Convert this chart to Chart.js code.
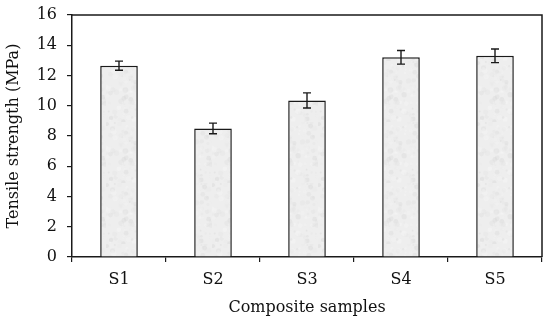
<!DOCTYPE html>
<html lang="en">
  <head>
    <meta charset="UTF-8" />
    <title>Tensile strength</title>
    <script src="https://cdn.jsdelivr.net/npm/chart.js"></script>
    <style>
      body {
        margin: 0;
        padding: 0;
        background: #fff;
      }
      .chart-container {
        position: relative;
        width: 550px;
        height: 321px;
      }
    </style>
  </head>
  <body>
    <div class="chart-container">
      <canvas id="tensile-chart"></canvas>
    </div>

    <script>
      const categories = ["S1", "S2", "S3", "S4", "S5"];
      const strength = [12.65, 8.5, 10.35, 13.2, 13.3];
      const errors = [0.3, 0.35, 0.5, 0.45, 0.45];
      const yTicks = [0, 2, 4, 6, 8, 10, 12, 14, 16];

      const FONT = "'DejaVu Serif', serif";

      // mottled grey fill like the original
      function makeTexture() {
        const c = document.createElement("canvas");
        c.width = 53;
        c.height = 61;
        const g = c.getContext("2d");
        g.fillStyle = "#eeeeee";
        g.fillRect(0, 0, 53, 61);
        let seed = 11;
        const rnd = () => {
          seed = (seed * 16807) % 2147483647;
          return seed / 2147483647;
        };
        for (let i = 0; i < 160; i++) {
          const shade = 210 + Math.floor(rnd() * 40);
          g.fillStyle = `rgba(${shade},${shade},${shade},0.35)`;
          g.beginPath();
          g.arc(rnd() * 53, rnd() * 61, 0.8 + rnd() * 2, 0, Math.PI * 2);
          g.fill();
        }
        return g.createPattern(c, "repeat");
      }

      const errorBars = {
        id: "errorBars",
        afterDatasetsDraw(chart) {
          const ctx = chart.ctx;
          const y = chart.scales.y;
          const meta = chart.getDatasetMeta(0);
          ctx.save();
          ctx.strokeStyle = "#1a1a1a";
          ctx.lineWidth = 1.4;
          meta.data.forEach((bar, i) => {
            const top = y.getPixelForValue(strength[i] + errors[i]);
            const bot = y.getPixelForValue(strength[i] - errors[i]);
            const x = bar.x;
            ctx.beginPath();
            ctx.moveTo(x, top);
            ctx.lineTo(x, bot);
            ctx.moveTo(x - 4, top);
            ctx.lineTo(x + 4, top);
            ctx.moveTo(x - 4, bot);
            ctx.lineTo(x + 4, bot);
            ctx.stroke();
          });
          ctx.restore();
        },
      };

      const frame = {
        id: "frame",
        afterDraw(chart) {
          const { left, right, top, bottom } = chart.chartArea;
          const ctx = chart.ctx;
          ctx.save();
          ctx.strokeStyle = "#1a1a1a";
          ctx.lineWidth = 1.5;
          ctx.beginPath();
          ctx.moveTo(left, top);
          ctx.lineTo(right, top);
          ctx.lineTo(right, bottom);
          ctx.stroke();
          ctx.restore();
        },
      };

      new Chart(document.getElementById("tensile-chart"), {
        type: "bar",
        data: {
          labels: categories,
          datasets: [
            {
              data: strength,
              backgroundColor: makeTexture(),
              borderColor: "#1a1a1a",
              borderWidth: 1.5,
              borderSkipped: "bottom",
              categoryPercentage: 1,
              barPercentage: 0.4,
            },
          ],
        },
        options: {
          responsive: true,
          maintainAspectRatio: false,
          animation: false,
          layout: { padding: { top: 15, right: 8, left: 0, bottom: 0 } },
          plugins: {
            legend: { display: false },
            tooltip: { enabled: false },
          },
          scales: {
            x: {
              afterFit(scale) {
                scale.height = 64;
              },
              grid: {
                offset: true,
                drawOnChartArea: false,
                drawTicks: true,
                tickLength: 5,
                color: "#1a1a1a",
                lineWidth: 1.2,
              },
              border: { color: "#1a1a1a", width: 1.5 },
              ticks: {
                color: "#111",
                font: { family: FONT, size: 16 },
                padding: 8,
              },
              title: {
                display: true,
                text: "Composite samples",
                color: "#111",
                font: { family: FONT, size: 16 },
                padding: { top: 2 },
              },
            },
            y: {
              min: 0,
              max: 16,
              afterFit(scale) {
                scale.width = 72;
                scale.paddingTop = 0;
                scale.paddingBottom = 0;
              },
              afterBuildTicks(scale) {
                scale.ticks = yTicks.map((v) => ({ value: v }));
              },
              grid: {
                drawOnChartArea: false,
                drawTicks: true,
                tickLength: 5,
                color: "#1a1a1a",
                lineWidth: 1.2,
              },
              border: { color: "#1a1a1a", width: 1.5 },
              ticks: {
                color: "#111",
                font: { family: FONT, size: 16 },
                padding: 10,
              },
              title: {
                display: true,
                text: "Tensile strength (MPa)",
                color: "#111",
                font: { family: FONT, size: 16 },
                padding: { bottom: 0 },
              },
            },
          },
        },
        plugins: [errorBars, frame],
      });
    </script>
  </body>
</html>
